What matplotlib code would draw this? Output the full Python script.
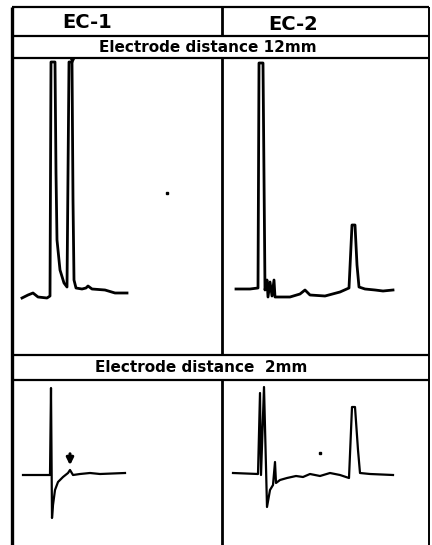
import matplotlib
matplotlib.use("Agg")
import matplotlib.pyplot as plt

# ---- data (local panel units: x = time, y = signal amplitude) ----
col_labels = ["EC-1", "EC-2"]
row_labels = ["Electrode distance 12mm", "Electrode distance  2mm"]

ec1_12_t = [10, 16, 21, 26, 35, 38, 39, 43, 44, 45, 48, 52, 55, 57, 60, 61, 62, 64, 70, 74, 76, 80, 93, 103, 115]
ec1_12_v = [57, 60, 62, 58, 57, 59, 293, 293, 182, 115, 85, 72, 68, 293, 293, 155, 75, 67, 66, 67, 69, 66, 65, 62, 62]

ec2_12_t = [14, 28, 36, 37, 41, 43, 45, 46, 48, 50, 52, 53, 68, 78, 83, 88, 103, 118, 127, 130, 133, 135, 137, 143, 153, 161, 171]
ec2_12_v = [66, 66, 67, 292, 292, 65, 75, 58, 73, 59, 75, 58, 58, 61, 65, 60, 59, 63, 67, 130, 130, 90, 68, 66, 65, 64, 65]

ec1_2_t = [11, 38, 39, 40, 41, 43, 46, 51, 56, 58, 61, 68, 78, 88, 113]
ec1_2_v = [70, 70, 157, 27, 40, 55, 63, 68, 72, 75, 70, 71, 72, 71, 72]

ec2_2_t = [11, 36, 38, 39, 42, 45, 48, 51, 53, 54, 58, 65, 74, 81, 88, 98, 108, 118, 127, 130, 133, 136, 138, 148, 171]
ec2_2_v = [72, 71, 152, 70, 158, 38, 55, 60, 83, 62, 65, 67, 69, 68, 71, 69, 72, 70, 67, 138, 138, 95, 72, 71, 70]

# ---- layout (pixels) ----
W, H = 432, 545
X_L, X_M, X_R = 12, 222, 429
Y_TOP, Y_HDR, Y_ROW1, Y_P1B, Y_ROW2, Y_BOT = 7, 36, 58, 355, 380, 545

fig = plt.figure(figsize=(W / 100, H / 100), dpi=100)
fig.patch.set_facecolor("white")

def add_panel(x0, x1, y0, y1):
    ax = fig.add_axes([x0 / W, 1 - y1 / H, (x1 - x0) / W, (y1 - y0) / H])
    ax.set_xlim(0, x1 - x0)
    ax.set_ylim(0, y1 - y0)
    ax.axis("off")
    return ax

lw_trace = 2.0
ax1 = add_panel(X_L, X_M, Y_ROW1, Y_P1B)
ax1.plot(ec1_12_t, ec1_12_v, color="black", lw=lw_trace, solid_joinstyle="round")
ax1.plot([60], [296], marker="v", color="black", ms=4)
ax1.plot([155], [162], marker="s", color="black", ms=1.5)

ax2 = add_panel(X_M, X_R, Y_ROW1, Y_P1B)
ax2.plot(ec2_12_t, ec2_12_v, color="black", lw=lw_trace, solid_joinstyle="round")

ax3 = add_panel(X_L, X_M, Y_ROW2, Y_BOT)
ax3.plot(ec1_2_t, ec1_2_v, color="black", lw=1.6, solid_joinstyle="round")
ax3.annotate("", xy=(58, 77), xytext=(58, 94),
             arrowprops=dict(arrowstyle="-|>", color="black", lw=2.2, mutation_scale=10))

ax4 = add_panel(X_M, X_R, Y_ROW2, Y_BOT)
ax4.plot(ec2_2_t, ec2_2_v, color="black", lw=1.6, solid_joinstyle="round")
ax4.plot([98], [92], marker="s", color="black", ms=1.5)

# ---- table frame ----
ax0 = fig.add_axes([0, 0, 1, 1], zorder=-1)
ax0.set_xlim(0, W)
ax0.set_ylim(H, 0)
ax0.axis("off")
k = "black"
ax0.hlines([Y_TOP, Y_HDR, Y_ROW1, Y_P1B, Y_ROW2], X_L, X_R, color=k, lw=1.6)
ax0.vlines(X_L, Y_TOP, Y_BOT, color=k, lw=2.4)
ax0.vlines(X_R, Y_TOP, Y_BOT, color=k, lw=1.4)
ax0.vlines(X_M, Y_TOP, Y_HDR, color=k, lw=2.0)
ax0.vlines(X_M, Y_ROW1, Y_P1B, color=k, lw=2.0)
ax0.vlines(X_M, Y_ROW2, Y_BOT, color=k, lw=2.0)

ax0.text(87, 23, col_labels[0], ha="center", va="center", fontsize=14, fontweight="bold")
ax0.text(293, 25, col_labels[1], ha="center", va="center", fontsize=14, fontweight="bold")
ax0.text(208, 48, row_labels[0], ha="center", va="center", fontsize=11, fontweight="bold")
ax0.text(201, 368, row_labels[1], ha="center", va="center", fontsize=11, fontweight="bold")

fig.savefig("out.png", dpi=100, facecolor="white")
